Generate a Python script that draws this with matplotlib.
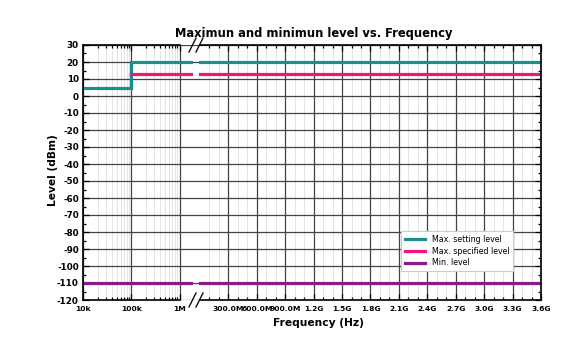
import numpy as np
import matplotlib
matplotlib.use("Agg")
import matplotlib.pyplot as plt
from matplotlib.lines import Line2D

# ---------------------------------------------------------------
# data
# ---------------------------------------------------------------
# low band (log axis, Hz)
low_setting_f = [1e4, 1e5, 1e5, 1.9e6]
low_setting_db = [5, 5, 20, 20]
low_specified_f = [1e5, 1.9e6]
low_specified_db = [13, 13]
low_min_f = [1e4, 1.9e6]
low_min_db = [-110, -110]

# high band (linear axis, Hz)
high_f = [0, 3.6e9]
high_setting_db = [20, 20]
high_specified_db = [13, 13]
high_min_db = [-110, -110]

lin_ticks = [300e6, 600e6, 900e6, 1.2e9, 1.5e9, 1.8e9, 2.1e9, 2.4e9,
             2.7e9, 3.0e9, 3.3e9, 3.6e9]
lin_labels = ["300.0M", "600.0M", "900.0M", "1.2G", "1.5G", "1.8G", "2.1G",
              "2.4G", "2.7G", "3.0G", "3.3G", "3.6G"]
log_ticks = [1e4, 1e5, 1e6]
log_labels = ["10k", "100k", "1M"]

c_set = "#17908f"
c_spec = "#f5157a"
c_min = "#8b1a8b"

plt.rcParams["font.family"] = "DejaVu Sans"
plt.rcParams["axes.unicode_minus"] = False

fig = plt.figure(figsize=(5.82, 3.43), dpi=100)
W, H = 582, 343
x0, xb, x1 = 83, 193, 541
ytop, ybot = 45, 300
bottom = 1 - ybot / H
height = (ybot - ytop) / H

axL = fig.add_axes([x0 / W, bottom, (xb - x0) / W, height])
axR = fig.add_axes([xb / W, bottom, (x1 - xb) / W, height])

# ---- left (log) part
axL.set_xscale("log")
axL.set_xlim(1e4, 10 ** (4 + (xb - x0) / 48.3))
axL.plot(low_setting_f, low_setting_db, color=c_set, lw=2.3, solid_joinstyle="miter")
axL.plot(low_specified_f, low_specified_db, color=c_spec, lw=2.3)
axL.plot(low_min_f, low_min_db, color=c_min, lw=2.3)
axL.set_xticks(log_ticks)
axL.set_xticklabels(log_labels)

# ---- right (linear) part
px_per_hz = 28.5 / 300e6
axR.set_xlim(-(200 - xb) / px_per_hz, 3.6e9 + (x1 - 541.5) / px_per_hz)
axR.plot(high_f, high_setting_db, color=c_set, lw=2.3, label="Max. setting level")
axR.plot(high_f, high_specified_db, color=c_spec, lw=2.3, label="Max. specified level")
axR.plot(high_f, high_min_db, color=c_min, lw=2.3, label="Min. level")
axR.set_xticks(lin_ticks)
axR.set_xticklabels(lin_labels)
axR.set_xticks(np.arange(1e8, 3.6e9, 1e8), minor=True)

for ax in (axL, axR):
    ax.set_ylim(-120, 30)
    ax.set_yticks(np.arange(-120, 31, 10))
    ax.set_yticks(np.arange(-120, 31, 5), minor=True)
    ax.grid(True, which="major", color="#444444", lw=0.9)
    ax.grid(True, which="minor", axis="x", color="#e4e4e4", lw=0.7)
    ax.set_axisbelow(True)
    ax.tick_params(which="both", direction="in", top=True, right=True,
                   labelsize=6.3, pad=3, width=0.9)
    ax.tick_params(axis="x", labelsize=5.4, pad=4)
    ax.tick_params(which="major", length=4)
    ax.tick_params(which="minor", length=2.5)
    for lab in ax.get_xticklabels() + ax.get_yticklabels():
        lab.set_fontweight("bold")
    for s in ax.spines.values():
        s.set_linewidth(1.2)

axL.spines["right"].set_visible(False)
axR.spines["left"].set_visible(False)
axL.tick_params(axis="y", which="both", right=False)
axR.tick_params(axis="y", which="both", left=False, labelleft=False)
axL.spines["top"].set_bounds(1e4, 1e6)
axL.spines["bottom"].set_bounds(1e4, 1e6)
axR.spines["top"].set_bounds(0, axR.get_xlim()[1])
axR.spines["bottom"].set_bounds(0, axR.get_xlim()[1])

# break marks "//"
for yy in (ytop, ybot):
    for xx in (189, 196):
        fig.add_artist(Line2D([xx / W, (xx + 7) / W],
                              [1 - (yy + 7) / H, 1 - (yy - 7) / H],
                              color="#111111", lw=1.0))

fig.text(314 / W, 1 - 33 / H, "Maximun and minimun level vs. Frequency",
         ha="center", va="center", fontsize=8.3, fontweight="bold")
fig.text(318 / W, 1 - 323 / H, "Frequency (Hz)", ha="center", va="center",
         fontsize=7.7, fontweight="bold")
fig.text(53 / W, 1 - 170 / H, "Level (dBm)", ha="center", va="center",
         rotation=90, fontsize=7.7, fontweight="bold")

leg = axR.legend(loc="upper left", bbox_to_anchor=(397 / W, 1 - 227 / H),
                 bbox_transform=fig.transFigure, fontsize=5.7, frameon=True,
                 fancybox=False, edgecolor="#cccccc", framealpha=1,
                 handlelength=2.6, borderpad=0.5, labelspacing=0.35)
leg.get_frame().set_linewidth(0.8)

fig.savefig("out.png", dpi=100)
